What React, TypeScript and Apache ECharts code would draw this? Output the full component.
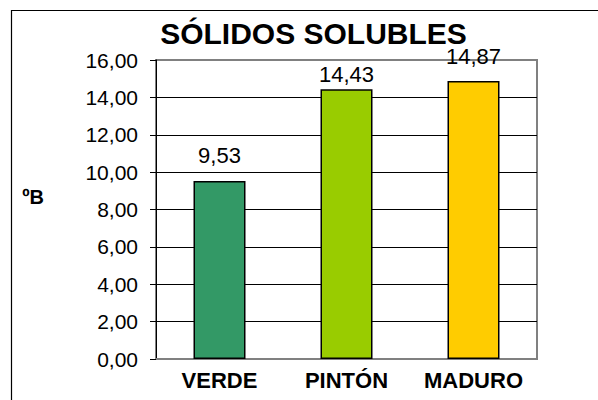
import React, { useEffect, useRef } from "react";
import * as echarts from "echarts";

const categories = ["VERDE", "PINTÓN", "MADURO"];
const values = [9.53, 14.43, 14.87];
const barColors = ["#339966", "#99CC00", "#FFCC00"];
const labelDistances = [14, 4, 14];
const yTicks = [0, 2, 4, 6, 8, 10, 12, 14, 16];
const titleText = "SÓLIDOS SOLUBLES";
const yAxisName = "ºB";

const FONT = "'Liberation Sans', Arial, sans-serif";
const fmt = (v: number) => v.toFixed(2).replace(".", ",");

export default function App() {
  const ref = useRef<HTMLDivElement>(null);
  useEffect(() => {
    if (!ref.current) return;
    const chart = echarts.init(ref.current, null, { renderer: "svg" });
    const splitColors = yTicks.map((_, i) =>
      i === 0 || i === yTicks.length - 1 ? "#808080" : "#000000"
    );
    chart.setOption({
      animation: false,
      backgroundColor: "#ffffff",
      grid: {
        left: 156,
        right: 61,
        top: 60,
        bottom: 41,
        show: true,
        borderColor: "#808080",
        borderWidth: 2,
        backgroundColor: "transparent",
      },
      graphic: [
        {
          type: "rect",
          shape: { x: 11.5, y: 10.5, width: 700, height: 500 },
          style: { fill: "none", stroke: "#000", lineWidth: 1.2 },
          silent: true,
          z: 100,
        },
        {
          type: "text",
          x: 313.5,
          y: 33,
          style: {
            text: titleText,
            font: `bold 30px ${FONT}`,
            fill: "#000",
            textAlign: "center",
            textVerticalAlign: "middle",
          },
          z: 100,
        },
        {
          type: "text",
          x: 33,
          y: 197,
          style: {
            text: yAxisName,
            font: `bold 20px ${FONT}`,
            fill: "#000",
            textAlign: "center",
            textVerticalAlign: "middle",
          },
          z: 100,
        },
      ],
      xAxis: {
        type: "category",
        data: categories,
        axisLine: { show: true, lineStyle: { color: "#808080", width: 2 } },
        axisTick: { show: false },
        axisLabel: {
          interval: 0,
          color: "#000",
          fontSize: 22,
          fontWeight: "bold",
          fontFamily: FONT,
          margin: 10,
        },
      },
      yAxis: {
        type: "value",
        min: 0,
        max: 16,
        interval: 2,
        axisLine: { show: true, lineStyle: { color: "#000", width: 1 } },
        axisTick: {
          show: true,
          length: 6,
          lineStyle: { color: "#000", width: 1 },
        },
        axisLabel: {
          color: "#000",
          fontSize: 21,
          fontFamily: FONT,
          margin: 18,
          formatter: (v: number) => fmt(v),
        },
        splitLine: {
          show: true,
          lineStyle: { color: splitColors, width: 1 },
        },
      },
      series: [
        {
          type: "bar",
          barWidth: 52,
          data: values.map((v, i) => ({
            value: v,
            itemStyle: {
              color: barColors[i],
              borderColor: "#000",
              borderWidth: 1.5,
            },
            label: {
              show: true,
              position: "top",
              distance: labelDistances[i],
              formatter: () => fmt(v),
              color: "#000",
              fontSize: 22,
              fontFamily: FONT,
            },
          })),
          z: 3,
        },
      ],
    });
    return () => chart.dispose();
  }, []);
  return (
    <div
      ref={ref}
      style={{ position: "fixed", left: 0, top: 0, width: 598, height: 400 }}
    />
  );
}
